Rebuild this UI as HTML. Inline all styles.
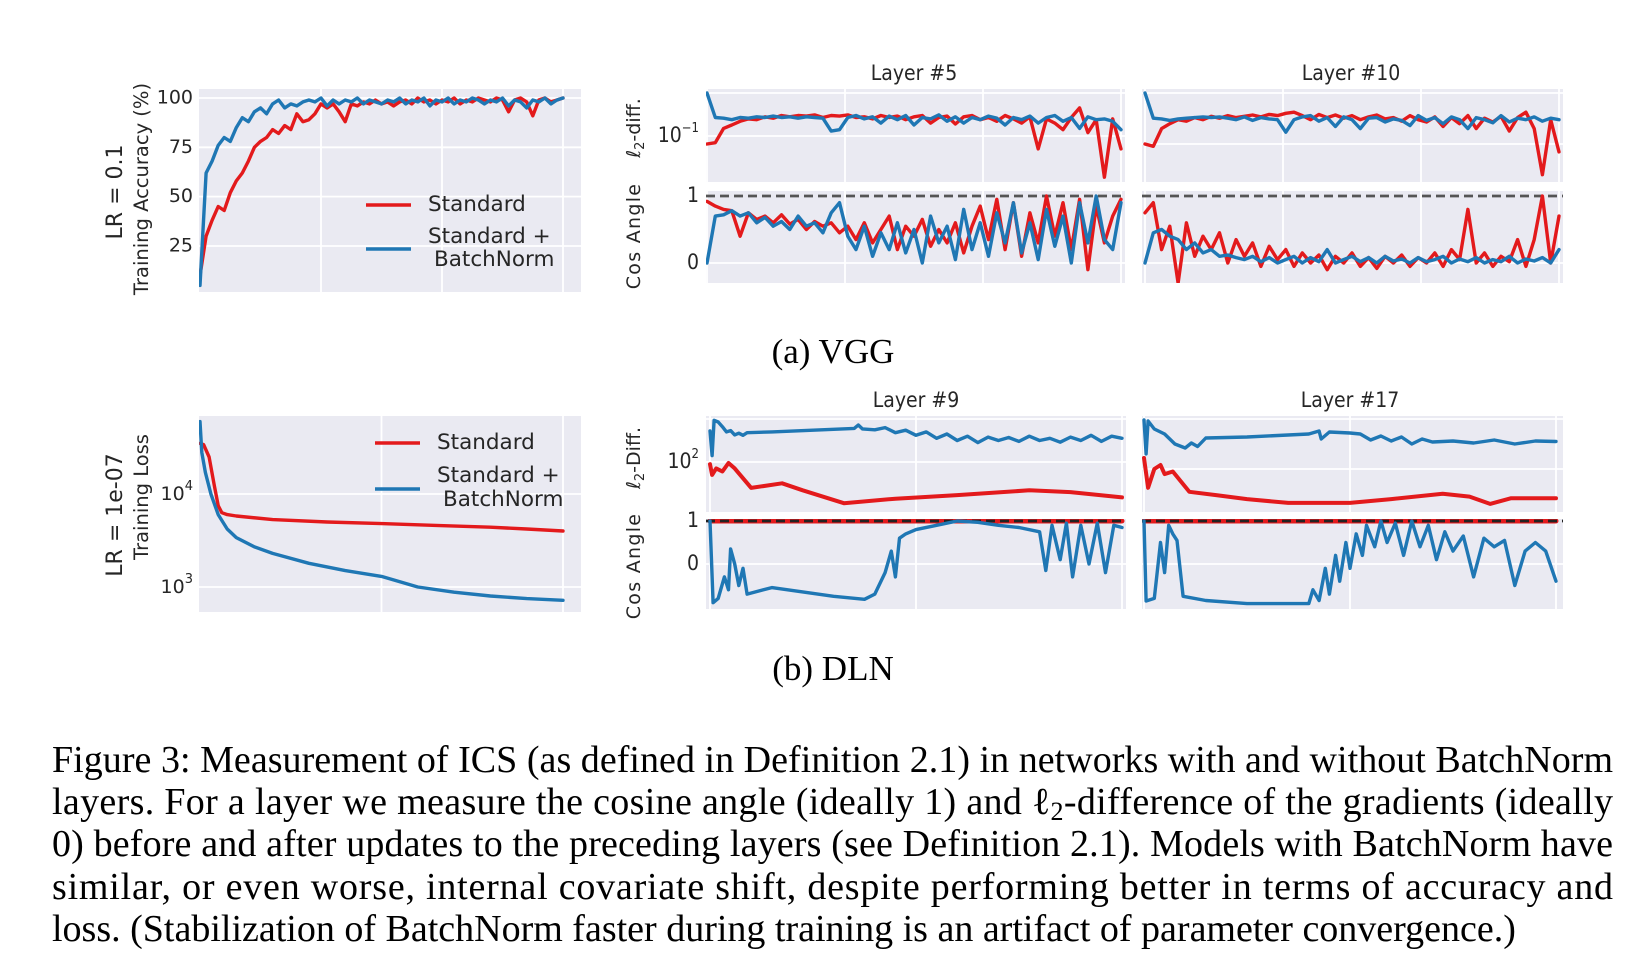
<!DOCTYPE html>
<html><head><meta charset="utf-8"><style>
html,body{margin:0;padding:0;background:#fff;}
svg{display:block;}
.tk{font-family:"DejaVu Sans","Liberation Sans",sans-serif;font-size:19px;fill:#262626;}
.tkc{font-family:"DejaVu Sans Condensed","DejaVu Sans",sans-serif;font-size:21px;fill:#262626;}
.lab{font-family:"DejaVu Sans","Liberation Sans",sans-serif;fill:#262626;}
.cap{font-family:"Liberation Serif",serif;fill:#000;}
</style></head><body>
<svg id="fig" width="1632" height="968" viewBox="0 0 1632 968" xmlns="http://www.w3.org/2000/svg">
<defs>
<clipPath id="c1"><rect x="199" y="89" width="382" height="203"/></clipPath>
<clipPath id="c2"><rect x="706" y="89" width="419" height="93"/></clipPath>
<clipPath id="c3"><rect x="706" y="191" width="419" height="92"/></clipPath>
<clipPath id="c4"><rect x="1142" y="89" width="421" height="93"/></clipPath>
<clipPath id="c5"><rect x="1142" y="191" width="421" height="92"/></clipPath>
<clipPath id="c6"><rect x="199" y="416" width="382" height="196"/></clipPath>
<clipPath id="c7"><rect x="706" y="416" width="420" height="96"/></clipPath>
<clipPath id="c8"><rect x="706" y="519" width="420" height="90"/></clipPath>
<clipPath id="c9"><rect x="1142" y="416" width="421" height="96"/></clipPath>
<clipPath id="c10"><rect x="1142" y="519" width="421" height="90"/></clipPath>
</defs>
<g id="root"></g>

<text class="lab" font-size="22" text-anchor="middle" transform="translate(122,192) rotate(-90)">LR = 0.1</text>
<text class="lab" font-size="19.5" text-anchor="middle" transform="translate(148,189) rotate(-90)">Training Accuracy (%)</text>
<text class="lab" font-size="19" text-anchor="middle" transform="translate(640,128) rotate(-90)">ℓ<tspan font-size="13" dy="4">2</tspan><tspan dy="-4">-diff.</tspan></text>
<text class="lab" font-size="19" letter-spacing="1.3" text-anchor="middle" transform="translate(640,236) rotate(-90)">Cos Angle</text>
<text class="lab" font-size="22" text-anchor="middle" transform="translate(122,515) rotate(-90)">LR = 1e-07</text>
<text class="lab" font-size="19.5" text-anchor="middle" transform="translate(148,497) rotate(-90)">Training Loss</text>
<text class="lab" font-size="19" text-anchor="middle" transform="translate(640,458) rotate(-90)">ℓ<tspan font-size="13" dy="4">2</tspan><tspan dy="-4">-Diff.</tspan></text>
<text class="lab" font-size="19" letter-spacing="1.3" text-anchor="middle" transform="translate(640,566) rotate(-90)">Cos Angle</text>

<text class="tkc" font-size="25" text-anchor="middle" x="914" y="80">Layer #5</text>
<text class="tkc" font-size="25" text-anchor="middle" x="1351" y="80">Layer #10</text>
<text class="tkc" font-size="25" text-anchor="middle" x="916" y="407">Layer #9</text>
<text class="tkc" font-size="25" text-anchor="middle" x="1350" y="407">Layer #17</text>

<text class="cap" font-size="35" text-anchor="middle" x="833" y="363">(a) VGG</text>
<text class="cap" font-size="35" text-anchor="middle" x="833" y="680">(b) DLN</text>

<g>
<text class="cap" font-size="38" x="52" y="772" textLength="1561" lengthAdjust="spacing">Figure 3: Measurement of ICS (as defined in Definition 2.1) in networks with and without BatchNorm</text>
<text class="cap" font-size="38" x="52" y="814" textLength="1561" lengthAdjust="spacing">layers. For a layer we measure the cosine angle (ideally 1) and ℓ<tspan font-size="26" dy="6">2</tspan><tspan dy="-6">-difference of the gradients (ideally</tspan></text>
<text class="cap" font-size="38" x="52" y="856" textLength="1561" lengthAdjust="spacing">0) before and after updates to the preceding layers (see Definition 2.1). Models with BatchNorm have</text>
<text class="cap" font-size="38" x="52" y="899" textLength="1561" lengthAdjust="spacing">similar, or even worse, internal covariate shift, despite performing better in terms of accuracy and</text>
<text class="cap" font-size="38" x="52" y="941">loss. (Stabilization of BatchNorm faster during training is an artifact of parameter convergence.)</text>
</g>
</svg>
<script>
// ---------- DATA ----------
const epochs = [0,6,12,18,24,30,36,42,48,54,60,66,72,78,84,90,96,102,108,114,120,126,132,138,144,150,156,162,168,174,180,186,192,198,204,210,216,222,228,234,240,246,252,258,264,270,276,282,288,294,300];
const accEpochs = [0,5,10,15,20,25,30,35,40,45,50,55,60,65,70,75,80,85,90,95,100,105,110,115,120,125,130,135,140,145,150,155,160,165,170,175,180,185,190,195,200,205,210,215,220,225,230,235,240,245,250,255,260,265,270,275,280,285,290,295,300];
const accStandard = [10,30,38,45,43,52,58,62,68,75,78,80,84,82,86,84,92,88,89,92,97,95,97,93,88,97,96,98,97,99,97,98,96,98,99,97,100,98,99,97,99,98,100,97,99,98,100,99,98,100,99,93,99,100,98,91,99,100,98,99,100];
const accBN = [5,62,68,76,80,78,85,90,88,93,95,92,97,99,95,97,96,98,99,98,100,96,99,97,99,98,100,97,99,98,97,99,98,100,97,99,98,100,96,99,98,100,97,99,98,100,99,97,99,98,100,96,99,98,95,99,98,100,97,99,100];
const l5DiffStd = [0.065,0.07,0.15,0.18,0.22,0.25,0.24,0.28,0.26,0.3,0.28,0.3,0.29,0.31,0.27,0.3,0.29,0.31,0.27,0.28,0.25,0.3,0.27,0.29,0.24,0.28,0.3,0.2,0.27,0.29,0.19,0.28,0.3,0.24,0.27,0.22,0.3,0.25,0.2,0.28,0.05,0.25,0.2,0.14,0.27,0.45,0.12,0.24,0.011,0.25,0.05];
const l5DiffBN = [1.0,0.27,0.26,0.24,0.27,0.26,0.28,0.27,0.29,0.27,0.28,0.26,0.28,0.27,0.26,0.13,0.14,0.27,0.3,0.25,0.28,0.2,0.29,0.24,0.3,0.18,0.27,0.25,0.31,0.22,0.28,0.2,0.27,0.24,0.29,0.26,0.18,0.27,0.24,0.29,0.2,0.27,0.3,0.22,0.27,0.15,0.28,0.24,0.25,0.22,0.14];
const l10DiffStd = [0.1,0.09,0.2,0.25,0.3,0.28,0.33,0.3,0.35,0.32,0.36,0.33,0.35,0.37,0.34,0.38,0.36,0.4,0.42,0.36,0.3,0.38,0.33,0.37,0.32,0.36,0.3,0.34,0.37,0.31,0.33,0.28,0.36,0.3,0.27,0.34,0.22,0.33,0.25,0.36,0.2,0.32,0.27,0.35,0.18,0.33,0.42,0.2,0.025,0.3,0.07];
const l10DiffBN = [1.0,0.32,0.31,0.29,0.31,0.32,0.33,0.34,0.33,0.34,0.32,0.3,0.34,0.29,0.33,0.31,0.3,0.17,0.3,0.34,0.36,0.28,0.33,0.22,0.34,0.3,0.2,0.32,0.33,0.27,0.31,0.29,0.23,0.36,0.29,0.33,0.25,0.34,0.3,0.2,0.33,0.3,0.26,0.36,0.27,0.32,0.3,0.34,0.28,0.32,0.3];
const l5CosStd = [0.92,0.85,0.8,0.78,0.4,0.75,0.65,0.7,0.6,0.72,0.58,0.65,0.5,0.62,0.55,0.6,0.45,0.55,0.35,0.6,0.3,0.5,0.7,0.2,0.55,0.4,0.65,0.25,0.5,0.3,0.6,0.15,0.55,0.85,0.35,0.95,0.2,0.9,0.1,0.75,0.3,1.0,0.4,0.9,0.2,0.95,-0.1,0.85,0.3,0.7,0.95];
const l5CosBN = [0.0,0.7,0.72,0.78,0.7,0.75,0.6,0.68,0.55,0.62,0.5,0.7,0.55,0.6,0.45,0.75,0.9,0.4,0.2,0.55,0.1,0.45,0.2,0.6,0.15,0.5,0.0,0.7,0.3,0.55,0.05,0.8,0.2,0.6,0.1,0.75,0.3,0.9,0.15,0.6,0.05,0.8,0.25,0.7,0.0,0.9,0.3,1.0,0.35,0.2,0.9];
const l10CosStd = [0.75,0.9,0.2,0.55,-0.3,0.6,0.1,0.4,0.2,0.45,0.0,0.35,0.1,0.3,-0.05,0.25,0.05,0.2,-0.05,0.15,0.0,0.12,-0.1,0.1,0.0,0.15,-0.05,0.08,-0.08,0.1,0.0,0.12,-0.05,0.08,0.0,0.15,-0.05,0.2,0.05,0.8,0.0,0.15,-0.05,0.1,0.02,0.35,-0.05,0.35,1.0,0.0,0.7];
const l10CosBN = [0.0,0.45,0.5,0.4,0.35,0.2,0.3,0.15,0.2,0.1,0.12,0.08,0.05,0.1,0.02,0.08,0.0,0.05,0.1,0.0,0.08,0.02,0.2,0.0,0.05,0.1,0.02,0.08,0.0,0.1,0.03,0.06,0.0,0.08,0.02,0.05,0.1,0.0,0.06,0.02,0.08,0.0,0.05,0.02,0.1,0.0,0.06,0.03,0.08,0.0,0.2];

const lossStdX = [0,0.02,0.05,0.08,0.1,0.12,0.15,0.2,0.4,0.7,1.0,1.3,1.6,1.8,2.0];
const lossStd = [35000,34000,25000,12000,7500,6300,6000,5800,5300,5000,4800,4600,4400,4200,4000];
const lossBNX = [0,0.01,0.03,0.06,0.1,0.15,0.2,0.3,0.4,0.6,0.8,1.0,1.2,1.4,1.6,1.8,2.0];
const lossBN = [60000,28000,17000,10000,6000,4200,3400,2700,2300,1800,1500,1300,1000,880,800,750,720];

const l9DiffBNX = [0,0.01,0.02,0.04,0.06,0.08,0.1,0.12,0.14,0.16,0.18,0.3,0.5,0.7,0.72,0.74,0.8,0.85,0.9,0.95,1.0,1.05,1.1,1.15,1.2,1.25,1.3,1.35,1.4,1.45,1.5,1.55,1.6,1.65,1.7,1.75,1.8,1.85,1.9,1.95,2.0];
const l9DiffBN = [525,141,933,851,661,501,537,427,468,417,479,501,550,603,724,589,562,631,479,550,417,501,355,447,316,398,282,380,316,372,302,398,316,355,288,380,316,417,302,398,355];
const l9DiffStdX = [0,0.01,0.03,0.06,0.09,0.12,0.2,0.35,0.45,0.65,0.9,1.2,1.55,1.75,2.0];
const l9DiffStd = [89,50,71,60,95,71,25,32,22,11,14,17,22,20,15];
const l17DiffBNX = [0,0.01,0.02,0.05,0.1,0.15,0.2,0.23,0.26,0.3,0.5,0.8,0.85,0.86,0.9,1.0,1.05,1.1,1.15,1.2,1.25,1.3,1.35,1.4,1.5,1.6,1.7,1.8,1.9,2.0];
const l17DiffBN = [955,200,912,631,501,316,263,331,282,417,437,501,575,398,550,525,501,380,457,363,437,316,398,347,363,331,380,316,363,355];
const l17DiffStdX = [0,0.02,0.05,0.08,0.1,0.14,0.22,0.35,0.5,0.7,1.0,1.2,1.45,1.58,1.68,1.78,2.0];
const l17DiffStd = [166,42,100,120,79,89,35,30,25,21,21,25,32,28,20,26,26];

const l9CosBNX = [0,0.015,0.04,0.07,0.09,0.1,0.12,0.14,0.16,0.18,0.3,0.6,0.75,0.8,0.85,0.88,0.9,0.92,0.95,1.0,1.1,1.2,1.3,1.4,1.5,1.6,1.63,1.66,1.7,1.73,1.76,1.8,1.84,1.88,1.92,1.96,2.0];
const l9CosBN = [1,-0.9,-0.8,-0.3,-0.6,0.35,0.0,-0.5,-0.1,-0.7,-0.55,-0.75,-0.82,-0.7,-0.2,0.3,-0.3,0.6,0.7,0.8,0.9,1.0,0.97,0.9,0.85,0.75,-0.15,0.9,0.1,0.95,-0.3,0.9,0.0,0.95,-0.2,0.9,0.85];
const l17CosBNX = [0,0.01,0.05,0.08,0.1,0.12,0.14,0.16,0.19,0.3,0.5,0.8,0.82,0.85,0.88,0.9,0.93,0.95,0.98,1.0,1.03,1.06,1.08,1.12,1.15,1.18,1.22,1.26,1.3,1.34,1.38,1.42,1.46,1.5,1.55,1.6,1.65,1.7,1.75,1.8,1.85,1.9,1.95,2.0];
const l17CosBN = [1,-0.86,-0.8,0.5,-0.2,0.9,0.7,0.55,-0.75,-0.85,-0.92,-0.92,-0.6,-0.85,-0.1,-0.7,0.2,-0.4,0.5,-0.1,0.7,0.2,0.9,0.4,1.0,0.5,0.95,0.2,1.0,0.4,0.9,0.1,0.75,0.3,0.65,-0.3,0.6,0.4,0.55,-0.5,0.3,0.5,0.3,-0.4];
const cosStdX = [0,2];
const cosStd = [1,1];

const accTicks = [100,75,50,25];
const lossTicks = [10000,1000];

// ---------- DRAW ----------
const NS = "http://www.w3.org/2000/svg";
const root = document.getElementById('root');
const RED = "#e31a1c", BLUE = "#1f77b4";
function mk(tag, attrs, parent){
  const e = document.createElementNS(NS, tag);
  for (const k in attrs) e.setAttribute(k, attrs[k]);
  (parent||root).appendChild(e);
  return e;
}
function lin(d0,d1,r0,r1){ return v => r0 + (v-d0)*(r1-r0)/(d1-d0); }
function panel(name,x,y,w,h){
  const r = mk('rect',{x:x,y:y,width:w,height:h,fill:'#eaeaf2'});
  
  
}
function hgrid(y,x,w){ mk('line',{x1:x,x2:x+w,y1:y,y2:y,stroke:'#fff','stroke-width':1.8}); }
function vgrid(x,y,h){ mk('line',{x1:x,x2:x,y1:y,y2:y+h,stroke:'#fff','stroke-width':1.8}); }
function series(name, xs, ys, sx, sy, color, clip, width){
  const pts = xs.map((v,i)=> sx(v).toFixed(1)+','+sy(ys[i]).toFixed(1)).join(' ');
  const p = mk('polyline',{points:pts,fill:'none',stroke:color,'stroke-width':width||3.4,'stroke-linejoin':'round','stroke-linecap':'round','clip-path':'url(#'+clip+')'});
  
  
}
function tick(label, x, y, cls){
  const t = mk('text',{x:x,y:y,'text-anchor':'end','dominant-baseline':'middle','class':cls||'tk'});
  t.textContent = label;
  
  
  return t;
}
function powTick(base, exp, x, y, cls){
  const t = mk('text',{x:x,y:y,'text-anchor':'end','dominant-baseline':'middle','class':cls||'tk'});
  
  
  const a = mk('tspan',{},t); a.textContent = base;
  const b = mk('tspan',{dy:-8,'font-size':13},t); b.textContent = exp;
}
function dashed(y,x,w,color){ mk('line',{x1:x,x2:x+w,y1:y,y2:y,stroke:color,'stroke-width':2.8,'stroke-dasharray':'9,5'}); }

// VGG accuracy
panel('vgg-accuracy-panel',199,89,382,203);
const axX = lin(0,300,200,563), axY = v => 98 + (100-v)*1.973;
accTicks.forEach(t=>{ hgrid(axY(t),199,382); tick(String(t),193,axY(t)); });
[100,200,300].forEach(t=>vgrid(axX(t),89,203));
series('vgg-acc-standard', accEpochs, accStandard, axX, axY, RED, 'c1');
series('vgg-acc-batchnorm', accEpochs, accBN, axX, axY, BLUE, 'c1');

// VGG L5/L10
const vx5 = lin(0,300,707,1121), vx10 = lin(0,300,1145,1559);
const d5 = v => 136 - (Math.log10(v)+1)*43, d10 = v => 144 - (Math.log10(v)+1)*51;
const cosV = v => 263 - v*67;
panel('layer5-l2diff-panel',706,89,419,93);
panel('layer5-cos-panel',706,191,419,92);
panel('layer10-l2diff-panel',1142,89,421,93);
panel('layer10-cos-panel',1142,191,421,92);
hgrid(d5(1),706,419); hgrid(d5(0.1),706,419);
hgrid(d10(1),1142,421); hgrid(d10(0.1),1142,421);
hgrid(cosV(0),706,419); hgrid(cosV(0),1142,421);
[0,100,200,300].forEach(t=>{ vgrid(vx5(t),89,93); vgrid(vx5(t),191,92); vgrid(vx10(t),89,93); vgrid(vx10(t),191,92); });
powTick('10','−1',699,d5(0.1),'tkc');
tick('1',699,cosV(1),'tkc'); tick('0',699,cosV(0),'tkc');
dashed(cosV(1),706,419,'#555'); dashed(cosV(1),1142,421,'#555');
series('layer5-l2diff-standard', epochs, l5DiffStd, vx5, d5, RED, 'c2');
series('layer5-l2diff-batchnorm', epochs, l5DiffBN, vx5, d5, BLUE, 'c2');
series('layer10-l2diff-standard', epochs, l10DiffStd, vx10, d10, RED, 'c4');
series('layer10-l2diff-batchnorm', epochs, l10DiffBN, vx10, d10, BLUE, 'c4');
series('layer5-cos-standard', epochs, l5CosStd, vx5, cosV, RED, 'c3');
series('layer5-cos-batchnorm', epochs, l5CosBN, vx5, cosV, BLUE, 'c3');
series('layer10-cos-standard', epochs, l10CosStd, vx10, cosV, RED, 'c5');
series('layer10-cos-batchnorm', epochs, l10CosBN, vx10, cosV, BLUE, 'c5');

// DLN loss
panel('dln-loss-panel',199,416,382,196);
const lx = lin(0,2,200,563), ly = v => 494 - (Math.log10(v)-4)*93;
lossTicks.forEach(t=>{ hgrid(ly(t),199,382); powTick('10', String(Math.round(Math.log10(t))), 193, ly(t)); });
[1,2].forEach(t=>vgrid(lx(t),416,196));
series('dln-loss-standard', lossStdX, lossStd, lx, ly, RED, 'c6');
series('dln-loss-batchnorm', lossBNX, lossBN, lx, ly, BLUE, 'c6');

// DLN L9/L17
const dx9 = lin(0,2,710,1122), dx17 = lin(0,2,1144,1556);
const e9 = v => 462 - (Math.log10(v)-2)*43, e17 = v => 469 - (Math.log10(v)-2)*50;
const dcos = v => 564 - v*43;
panel('layer9-l2diff-panel',706,416,420,96);
panel('layer9-cos-panel',706,519,420,90);
panel('layer17-l2diff-panel',1142,416,421,96);
panel('layer17-cos-panel',1142,519,421,90);
hgrid(e9(1000),706,420); hgrid(e9(100),706,420);
hgrid(e17(1000),1142,421); hgrid(e17(100),1142,421);
hgrid(dcos(0),706,420); hgrid(dcos(0),1142,421);
[0,1,2].forEach(t=>{ vgrid(dx9(t),416,96); vgrid(dx9(t),519,90); vgrid(dx17(t),416,96); vgrid(dx17(t),519,90); });
powTick('10','2',699,e9(100),'tkc');
tick('1',699,dcos(1),'tkc'); tick('0',699,dcos(0),'tkc');
series('layer9-l2diff-batchnorm', l9DiffBNX, l9DiffBN, dx9, e9, BLUE, 'c7');
series('layer9-l2diff-standard', l9DiffStdX, l9DiffStd, dx9, e9, RED, 'c7', 4);
series('layer17-l2diff-batchnorm', l17DiffBNX, l17DiffBN, dx17, e17, BLUE, 'c9');
series('layer17-l2diff-standard', l17DiffStdX, l17DiffStd, dx17, e17, RED, 'c9', 4);
series('layer9-cos-standard', cosStdX, cosStd, dx9, dcos, RED, 'c8', 5);
series('layer17-cos-standard', cosStdX, cosStd, dx17, dcos, RED, 'c10', 5);
dashed(dcos(1),706,420,'#222'); dashed(dcos(1),1142,421,'#222');
series('layer9-cos-batchnorm', l9CosBNX, l9CosBN, dx9, dcos, BLUE, 'c8');
series('layer17-cos-batchnorm', l17CosBNX, l17CosBN, dx17, dcos, BLUE, 'c10');

// Legends
function legend(name, x, yRed, yBlue, yT1, yT2, yT3){
  const g = mk('g',{});
  
  
  mk('line',{x1:x,x2:x+45,y1:yRed,y2:yRed,stroke:RED,'stroke-width':3.4},g);
  mk('line',{x1:x,x2:x+45,y1:yBlue,y2:yBlue,stroke:BLUE,'stroke-width':3.4},g);
  const a = mk('text',{x:x+62,y:yT1,'class':'lab','font-size':21.5,'dominant-baseline':'middle'},g); a.textContent='Standard';
  const b = mk('text',{x:x+62,y:yT2,'class':'lab','font-size':21.5,'dominant-baseline':'middle'},g); b.textContent='Standard +';
  const c = mk('text',{x:x+68,y:yT3,'class':'lab','font-size':21.5,'dominant-baseline':'middle'},g); c.textContent='BatchNorm';
}
legend('vgg-legend', 366, 205, 249, 205, 237, 260);
legend('dln-legend', 375, 443, 489, 443, 476, 500);
</script>
</body></html>
